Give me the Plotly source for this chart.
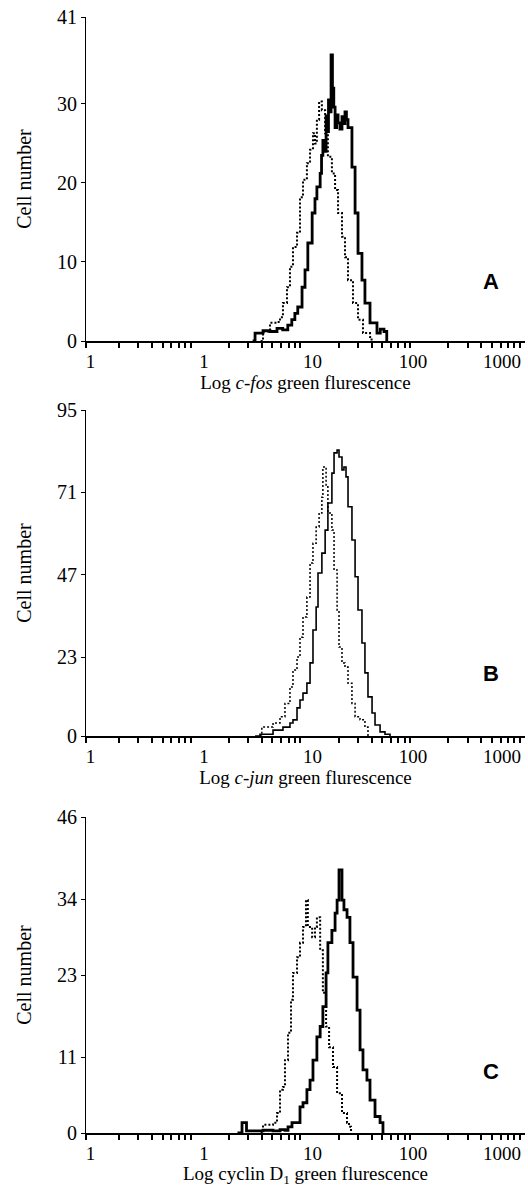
import plotly.graph_objects as go

# ---------------- data ----------------
# Panel A : c-fos
A_solid_x = [3.3, 3.47, 4.1, 4.75, 5.5, 6.2, 6.9, 7.5, 8.0, 8.5, 9.3, 9.9, 10.5, 11.5, 12.2, 12.7,
             13.6, 14.0, 14.4, 15.0, 15.4, 15.7, 16.2, 16.7, 17.1, 17.6, 18.1, 18.6, 19.2, 19.8, 20.6,
             21.5, 22.2, 22.9, 23.6, 24.4, 26.5, 28.3, 30.1, 32.7, 34.8, 38.7, 44.8, 48.0, 51.9, 55.0]
A_solid_y = [0, 1.0, 1.3, 1.2, 1.6, 1.4, 2.0, 2.7, 3.5, 4.3, 6.8, 9.0, 12.4, 16.2, 18.0, 19.5,
             21.2, 23.5, 25.4, 24.0, 28.5, 26.5, 30.5, 29.0, 36.2, 32.0, 29.6, 27.0, 28.6, 27.6, 26.8,
             28.4, 27.5, 29.0, 28.0, 27.0, 22.0, 16.2, 11.1, 7.7, 4.8, 2.3, 1.0, 1.5, 1.2, 0]

A_dot_x = [3.9, 4.1, 4.75, 5.5, 5.86, 6.23, 6.78, 7.22, 7.69, 8.37, 8.91, 9.49, 10.3, 11.0, 11.7,
           12.2, 12.7, 13.3, 14.1, 15.1, 16.0, 17.4, 18.6, 19.8, 21.5, 22.9, 24.4, 27.1, 30.1, 33.4,
           38.7, 40.0]
A_dot_y = [0, 1.2, 2.3, 2.4, 3.0, 4.8, 6.8, 9.4, 11.9, 13.7, 18.2, 20.4, 22.5, 24.2, 26.3,
           25.0, 28.0, 30.3, 29.2, 26.3, 23.3, 21.2, 19.1, 16.2, 13.2, 10.6, 7.7, 4.8, 2.7, 1.0,
           0.5, 0]

# Panel B : c-jun
B_solid_x = [3.47, 3.85, 5.06, 6.23, 7.22, 7.69, 8.37, 8.91, 9.49, 10.3, 11.0, 11.7, 12.5, 13.0,
             14.1, 15.1, 16.0, 17.4, 18.2, 19.4, 20.2, 21.5, 22.4, 23.4, 24.4, 26.5, 28.3, 30.1,
             32.7, 34.8, 37.1, 40.4, 43.0, 47.8, 53.0, 58.9]
B_solid_y = [0, 0.5, 1.7, 2.6, 3.8, 4.7, 8.2, 10.5, 12.5, 15.4, 21.3, 30.9, 37.6, 47.5,
             53.3, 60.0, 67.9, 76.6, 82.5, 83.3, 81.3, 77.5, 78.4, 75.5, 66.8, 57.1, 46.4, 36.7,
             27.1, 18.4, 11.4, 6.7, 3.2, 1.2, 0.5, 0]

B_dot_x = [3.85, 4.0, 5.06, 5.86, 6.50, 7.22, 7.69, 8.37, 8.91, 9.49, 10.3, 11.0, 11.7, 12.5,
           13.3, 14.1, 14.4, 15.4, 16.0, 17.4, 18.2, 19.4, 20.2, 21.5, 22.9, 24.4, 26.5, 28.3,
           31.4, 34.8, 37.1]
B_dot_y = [0, 2.6, 3.8, 5.6, 9.5, 14.3, 19.2, 23.0, 28.8, 34.7, 40.5, 50.4, 56.2, 60.9,
           65.0, 69.6, 78.4, 72.6, 65.0, 60.0, 48.4, 36.7, 25.9, 21.3, 20.1, 15.4, 9.5, 5.6,
           4.7, 2.6, 0]

# Panel C : cyclin D1
C_solid_x = [2.4, 2.64, 2.9, 3.5, 4.1, 5.06, 5.86, 6.5, 6.93, 7.53, 8.37, 8.91, 9.49, 10.3, 11.0,
             11.7, 12.7, 13.6, 14.4, 15.4, 16.0, 17.4, 18.6, 19.4, 20.2, 21.5, 22.4, 23.9, 25.4,
             27.1, 29.5, 31.4, 33.4, 36.3, 38.7, 43.0, 47.8, 50.8]
C_solid_y = [0, 1.5, 0.3, 0.3, 0.4, 0.3, 0.5, 0.4, 0.9, 1.5, 1.5, 3.8, 4.4, 6.3, 7.7,
             10.6, 14.0, 15.5, 18.4, 23.3, 27.7, 29.5, 32.0, 33.9, 38.3, 33.9, 32.5, 31.4, 27.7,
             22.7, 17.9, 12.1, 9.2, 7.7, 4.8, 2.4, 1.5, 0]

C_dot_x = [3.9, 4.1, 5.06, 5.5, 5.86, 6.23, 6.5, 6.93, 7.38, 7.69, 8.37, 8.91, 9.49, 10.1, 10.5,
           11.5, 12.2, 12.7, 13.6, 14.4, 15.4, 16.4, 17.8, 19.4, 21.5, 23.9, 24.9, 26.0]
C_dot_y = [0, 1.2, 1.5, 2.9, 6.3, 6.7, 10.6, 14.6, 19.4, 23.3, 25.6, 27.7, 30.0, 33.9, 30.0,
           28.5, 30.0, 31.4, 26.6, 20.4, 15.5, 12.5, 9.6, 5.8, 2.9, 1.5, 0.9, 0]

# axis labelling
x_tick_vals = [0.110, 1.19, 11.6, 95.3, 617]
x_tick_text = ["1", "1", "10", "100", "1000"]
x_minor_vals = [0.1, 0.2, 0.3, 0.4, 0.5, 0.6, 0.7, 0.8, 0.9,
                2, 3, 4, 5, 6, 7, 8, 9,
                20, 30, 40, 50, 60, 70, 80, 90,
                200, 300, 400, 500, 600, 700, 800, 900]
A_y_ticks = [0, 10, 20, 30, 41]
B_y_ticks = [0, 23, 47, 71, 95]
C_y_ticks = [0, 11, 23, 34, 46]
x_titles = ["Log <i>c-fos</i> green flurescence",
            "Log <i>c-jun</i> green flurescence",
            "Log cyclin D<sub>1</sub> green flurescence"]
panel_letters = ["A", "B", "C"]

# ---------------- figure ----------------
W, H = 528, 1187
M_L, M_R, M_T, M_B = 86, 3, 17, 54
serif = "Liberation Serif, Times New Roman, serif"

fig = go.Figure()

panels = [
    (A_solid_x, A_solid_y, A_dot_x, A_dot_y, A_y_ticks, 2.8, 2.0),
    (B_solid_x, B_solid_y, B_dot_x, B_dot_y, B_y_ticks, 1.6, 1.5),
    (C_solid_x, C_solid_y, C_dot_x, C_dot_y, C_y_ticks, 2.8, 2.0),
]
# vertical extents (pixel rows of top and bottom of each plot)
plot_h = H - M_T - M_B
rows = [(17, 341), (410, 736), (817, 1133)]
letter_offsets = [0.139, 0.147, 0.149]

for i, (sx, sy, dx, dy, yt, lw_s, lw_d) in enumerate(panels):
    n = i + 1
    xa = "x" if n == 1 else f"x{n}"
    ya = "y" if n == 1 else f"y{n}"
    fig.add_trace(go.Scatter(x=dx, y=dy, xaxis=xa, yaxis=ya, mode="lines",
                             line=dict(color="black", width=lw_d, dash="2px,2px", shape="hv"),
                             showlegend=False, hoverinfo="skip"))
    fig.add_trace(go.Scatter(x=sx, y=sy, xaxis=xa, yaxis=ya, mode="lines",
                             line=dict(color="black", width=lw_s, shape="hv"),
                             showlegend=False, hoverinfo="skip"))
    top, bot = rows[i]
    dom = [(H - M_B - bot) / plot_h, (H - M_B - top) / plot_h]
    xkey = "xaxis" if n == 1 else f"xaxis{n}"
    ykey = "yaxis" if n == 1 else f"yaxis{n}"
    fig.layout[xkey] = dict(
        type="log", range=[-1, 3], domain=[0, 1], anchor=ya,
        tickmode="array", tickvals=x_tick_vals, ticktext=x_tick_text,
        ticks="outside", ticklen=2, tickcolor="rgba(0,0,0,0)",
        showline=True, linecolor="black", linewidth=2, showgrid=False, zeroline=False,
        tickfont=dict(family=serif, size=19, color="black"),
        minor=dict(tickmode="array", tickvals=x_minor_vals, ticks="outside",
                   ticklen=5, tickwidth=2, tickcolor="black", showgrid=False),
        title=dict(text=x_titles[i], font=dict(family=serif, size=19, color="black"),
                   standoff=4),
    )
    fig.layout[ykey] = dict(
        range=[0, yt[-1]], domain=dom, anchor=xa,
        tickmode="array", tickvals=yt, ticks="outside", ticklen=4, tickwidth=1,
        tickcolor="black", showline=True, linecolor="black", linewidth=1,
        showgrid=False, zeroline=False,
        tickfont=dict(family=serif, size=20, color="black"),
        title=dict(text="Cell number", font=dict(family=serif, size=20, color="black"),
                   standoff=20),
    )
    fig.add_annotation(text="<b>%s</b>" % panel_letters[i], xref=f"{xa} domain", yref=f"{ya} domain",
                       x=0.945, y=letter_offsets[i], showarrow=False,
                       font=dict(family="Liberation Sans, Arial, sans-serif", size=22, color="black"))

fig.update_layout(
    width=W, height=H, margin=dict(l=M_L, r=M_R, t=M_T, b=M_B),
    paper_bgcolor="white", plot_bgcolor="white", showlegend=False,
)

fig.write_html("out.html", config={"displayModeBar": False},
               post_script="document.body.style.margin='0';")
